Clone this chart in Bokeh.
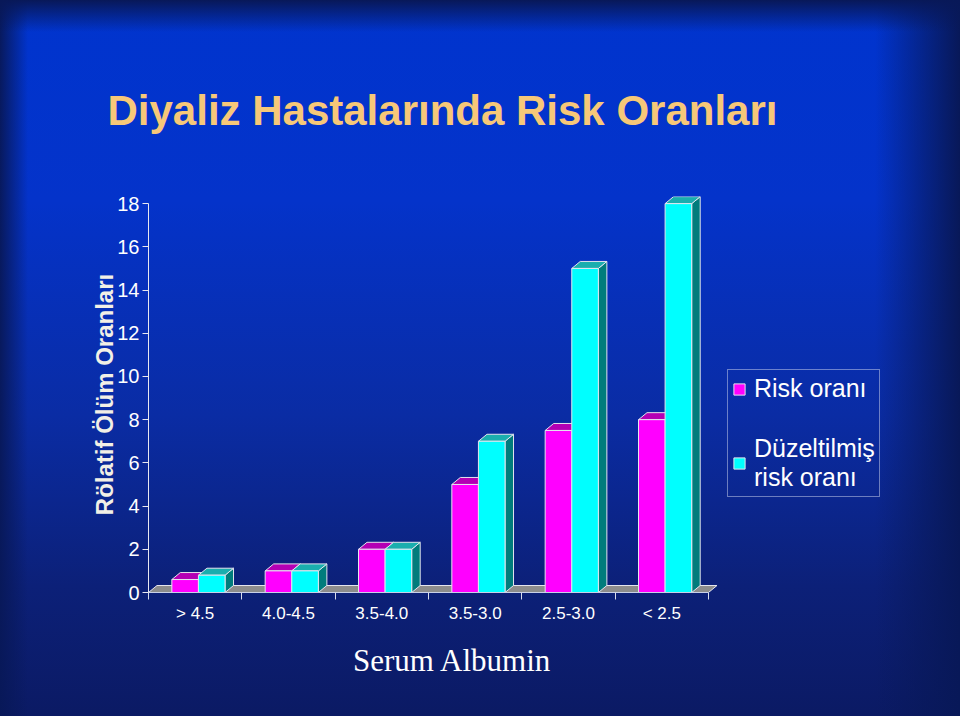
from bokeh.plotting import figure
from bokeh.models import (Range1d, FixedTicker, Label, Legend, LegendItem,
                          ColumnDataSource)
from bokeh.layouts import column
from bokeh.embed import file_html
from bokeh.resources import INLINE

# ---------------- data ----------------
categories = ["> 4.5", "4.0-4.5", "3.5-4.0", "3.5-3.0", "2.5-3.0", "< 2.5"]
risk = [0.6, 1.0, 2.0, 5.0, 7.5, 8.0]            # Risk oranı
adjusted = [0.8, 1.0, 2.0, 7.0, 15.0, 18.0]      # Düzeltilmiş risk oranı
y_ticks = [0, 2, 4, 6, 8, 10, 12, 14, 16, 18]

title_text = "Diyaliz Hastalarında Risk Oranları"
y_label = "Rölatif Ölüm Oranları"
x_label = "Serum Albumin"
series_names = ["Risk oranı", "Düzeltilmiş\nrisk oranı"]

# ---------------- geometry / style ----------------
BAR_W = 0.285
OFFS = [0.25, 0.535]
DX = 0.091      # depth offset in x (category units)
DY = 0.324      # depth offset in y (value units)
FRONT = ["#FF00FF", "#00FFFF"]
TOP = ["#B400B4", "#1AAEAE"]
SIDE = ["#8A008A", "#007C7C"]
EDGE = "#E4E4EE"
TOP_H = 160
BOT_H = 84
MID_H = 716 - TOP_H - BOT_H


def transparent(fig):
    fig.background_fill_color = None
    fig.border_fill_color = None
    fig.outline_line_color = None
    fig.grid.visible = False


def strip(h):
    f = figure(width=960, height=h, output_backend="svg", toolbar_location=None,
               x_axis_type=None, y_axis_type=None, min_border=0,
               x_range=Range1d(0, 1), y_range=Range1d(0, 1))
    f.frame_align = False
    transparent(f)
    return f


# ---------------- title strip ----------------
pt = strip(TOP_H)
pt.add_layout(Label(x=107, y=50, x_units="screen", y_units="screen",
                    text=title_text, text_font="Liberation Sans",
                    text_font_style="bold", text_font_size="42px",
                    text_color="#F7C878", text_baseline="alphabetic"))

# ---------------- chart ----------------
n = len(categories)
p = figure(width=960, height=MID_H, output_backend="svg",
           toolbar_location=None,
           x_range=Range1d(0, 8.7), y_range=Range1d(0, 18.33),
           min_border_left=148, min_border_right=0,
           min_border_top=196 - TOP_H, min_border_bottom=MID_H - (592 - TOP_H))
p.frame_align = False
transparent(p)

# floor
p.patch(x=[0, n, n + DX, DX], y=[0, 0, DY, DY], fill_color="#8C8C8C",
        line_color=EDGE, line_width=1)

fronts = []
for s, vals in enumerate([risk, adjusted]):
    x0 = [i + OFFS[s] for i in range(n)]
    x1 = [x + BAR_W for x in x0]
    side_xs = [[b, b + DX, b + DX, b] for b in x1]
    side_ys = [[0, DY, v + DY, v] for v in vals]
    top_xs = [[a, b, b + DX, a + DX] for a, b in zip(x0, x1)]
    top_ys = [[v, v, v + DY, v + DY] for v in vals]
    p.patches(xs=side_xs, ys=side_ys, fill_color=SIDE[s], line_color=EDGE,
              line_width=1)
    p.patches(xs=top_xs, ys=top_ys, fill_color=TOP[s], line_color=EDGE,
              line_width=1)
    src = ColumnDataSource(dict(left=x0, right=x1, top=vals,
                                bottom=[0] * n))
    r = p.quad(left="left", right="right", top="top", bottom="bottom",
               source=src, fill_color=FRONT[s], line_color=EDGE, line_width=1)
    fronts.append(r)

# y axis
ya = p.yaxis[0]
ya.bounds = (0, 18)
ya.ticker = FixedTicker(ticks=y_ticks)
ya.axis_line_color = "#E8E8F0"
ya.major_tick_line_color = "#E8E8F0"
ya.major_tick_out = 6
ya.major_tick_in = 0
ya.minor_tick_line_color = None
ya.major_label_text_color = "white"
ya.major_label_text_font = "Liberation Sans"
ya.major_label_text_font_size = "20px"
ya.major_label_standoff = 3
ya.axis_label = y_label
ya.axis_label_text_font = "Liberation Sans"
ya.axis_label_text_font_style = "bold"
ya.axis_label_text_font_size = "24px"
ya.axis_label_text_color = "#F2F0E6"
ya.axis_label_standoff = -4

# x axis
xa = p.xaxis[0]
xa.bounds = (0, n)
centers = [i + 0.5 for i in range(n)]
xa.ticker = FixedTicker(ticks=centers, minor_ticks=list(range(n + 1)))
xa.major_label_overrides = {c: lab for c, lab in zip(centers, categories)}
xa.major_tick_line_color = None
xa.minor_tick_line_color = "#D8DCEC"
xa.minor_tick_out = 7
xa.minor_tick_in = 0
xa.axis_line_color = "#C8D0E8"
xa.major_label_text_color = "white"
xa.major_label_text_font = "Liberation Sans"
xa.major_label_text_font_size = "17px"
xa.major_label_standoff = 4

# legend
legend = Legend(items=[LegendItem(label=series_names[0], renderers=[fronts[0]]),
                       LegendItem(label=series_names[1], renderers=[fronts[1]])],
                location=(579, 95))
legend.border_line_color = "#D0D6EE"
legend.border_line_width = 1
legend.background_fill_alpha = 0
legend.label_text_color = "white"
legend.label_text_font = "Liberation Sans"
legend.label_text_font_size = "25px"
legend.label_text_line_height = 1.05
legend.glyph_width = 14
legend.glyph_height = 14
legend.spacing = 31
legend.padding = 4
legend.label_standoff = 8
p.add_layout(legend, "center")

# ---------------- x-axis title strip ----------------
pb = strip(BOT_H)
pb.add_layout(Label(x=452, y=56, x_units="screen", y_units="screen",
                    text=x_label, text_font="Liberation Serif",
                    text_font_size="31px", text_color="white",
                    text_align="center", text_baseline="alphabetic"))

layout = column(pt, p, pb, spacing=0)
layout.styles = {
    "background": (
        "linear-gradient(to bottom, rgba(8,24,88,1) 0px, rgba(8,24,88,0) 32px),"
        "linear-gradient(to right, rgba(8,24,88,0.95) 0px, rgba(8,24,88,0) 28px),"
        "linear-gradient(to left, rgba(8,24,88,1) 0px, rgba(8,24,88,0) 85px),"
        "linear-gradient(to bottom, #0034CE 0%, #0433CA 28%, #0A2CA4 58%, "
        "#0C2078 82%, #0B1A64 100%)"
    ),
}

open("out.html", "w").write(file_html(layout, INLINE))
